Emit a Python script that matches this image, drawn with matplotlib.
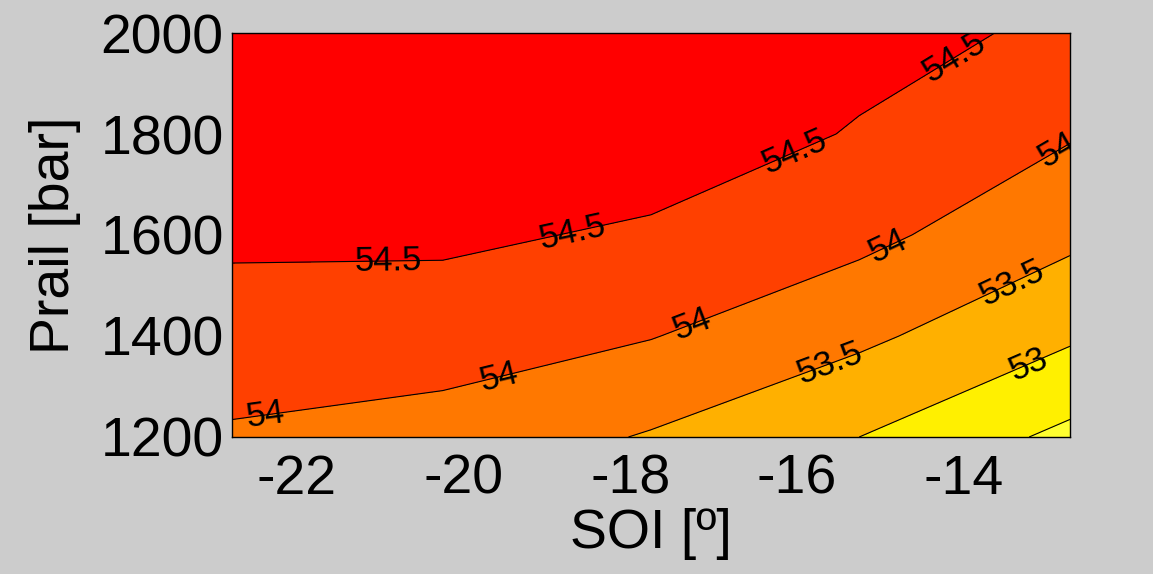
import numpy as np
from matplotlib import pyplot as plt

# grid
soi = [-22.78, -20.25, -17.75, -15.25, -12.72]
prail = [1200, 1400, 1600, 1800, 2000]
# rows = prail, cols = soi
efficiency = [
    [53.95, 53.83, 53.46, 53.00, 52.38],
    [54.24, 54.20, 54.02, 53.60, 53.07],
    [54.60, 54.60, 54.42, 54.13, 53.61],
    [54.75, 54.80, 54.82, 54.46, 54.04],
    [54.85, 54.90, 54.95, 54.68, 54.40],
]

fill_levels = [52.0, 52.5, 53.0, 53.5, 54.0, 54.5, 55.5]
line_levels = [52.5, 53.0, 53.5, 54.0, 54.5]
fill_colors = ["#FFFF30", "#FFF000", "#FFB000", "#FF7800", "#FF4000", "#FF0000"]

label_spots = [
    (-20.9, 1545), (-18.69, 1600), (-16.0, 1754), (-14.07, 1943),
    (-22.38, 1243), (-19.56, 1313), (-17.25, 1422), (-14.88, 1570), (-12.94, 1788),
    (-15.58, 1333), (-13.38, 1491),
    (-13.2, 1337),
]

plt.rcParams["font.family"] = ["Liberation Sans", "DejaVu Sans"]
plt.rcParams["axes.unicode_minus"] = False

fig = plt.figure(figsize=(11.53, 5.74), dpi=100, facecolor="#CCCCCC")
ax = fig.add_axes([0.2012, 0.2387, 0.7268, 0.7038])

X, Y = np.meshgrid(soi, prail)
Z = np.array(efficiency)

ax.contourf(X, Y, Z, levels=fill_levels, colors=fill_colors)
cs = ax.contour(X, Y, Z, levels=line_levels, colors="black", linewidths=0.8)
ax.clabel(cs, inline=False, fontsize=25, colors="black", fmt="%g", manual=label_spots)

ax.set_xlim(soi[0], soi[-1])
ax.set_ylim(1200, 2000)
ax.set_xticks([-22, -20, -18, -16, -14])
ax.set_yticks([1200, 1400, 1600, 1800, 2000])
ax.tick_params(length=0, labelsize=40)
ax.tick_params(axis="x", pad=12)
ax.tick_params(axis="y", pad=6)
for s in ax.spines.values():
    s.set_linewidth(1.0)

ax.set_xlabel("SOI [º]", fontsize=40, labelpad=2)
ax.set_ylabel("Prail [bar]", fontsize=40, labelpad=14)

fig.savefig("out.png", dpi=100, facecolor=fig.get_facecolor())
